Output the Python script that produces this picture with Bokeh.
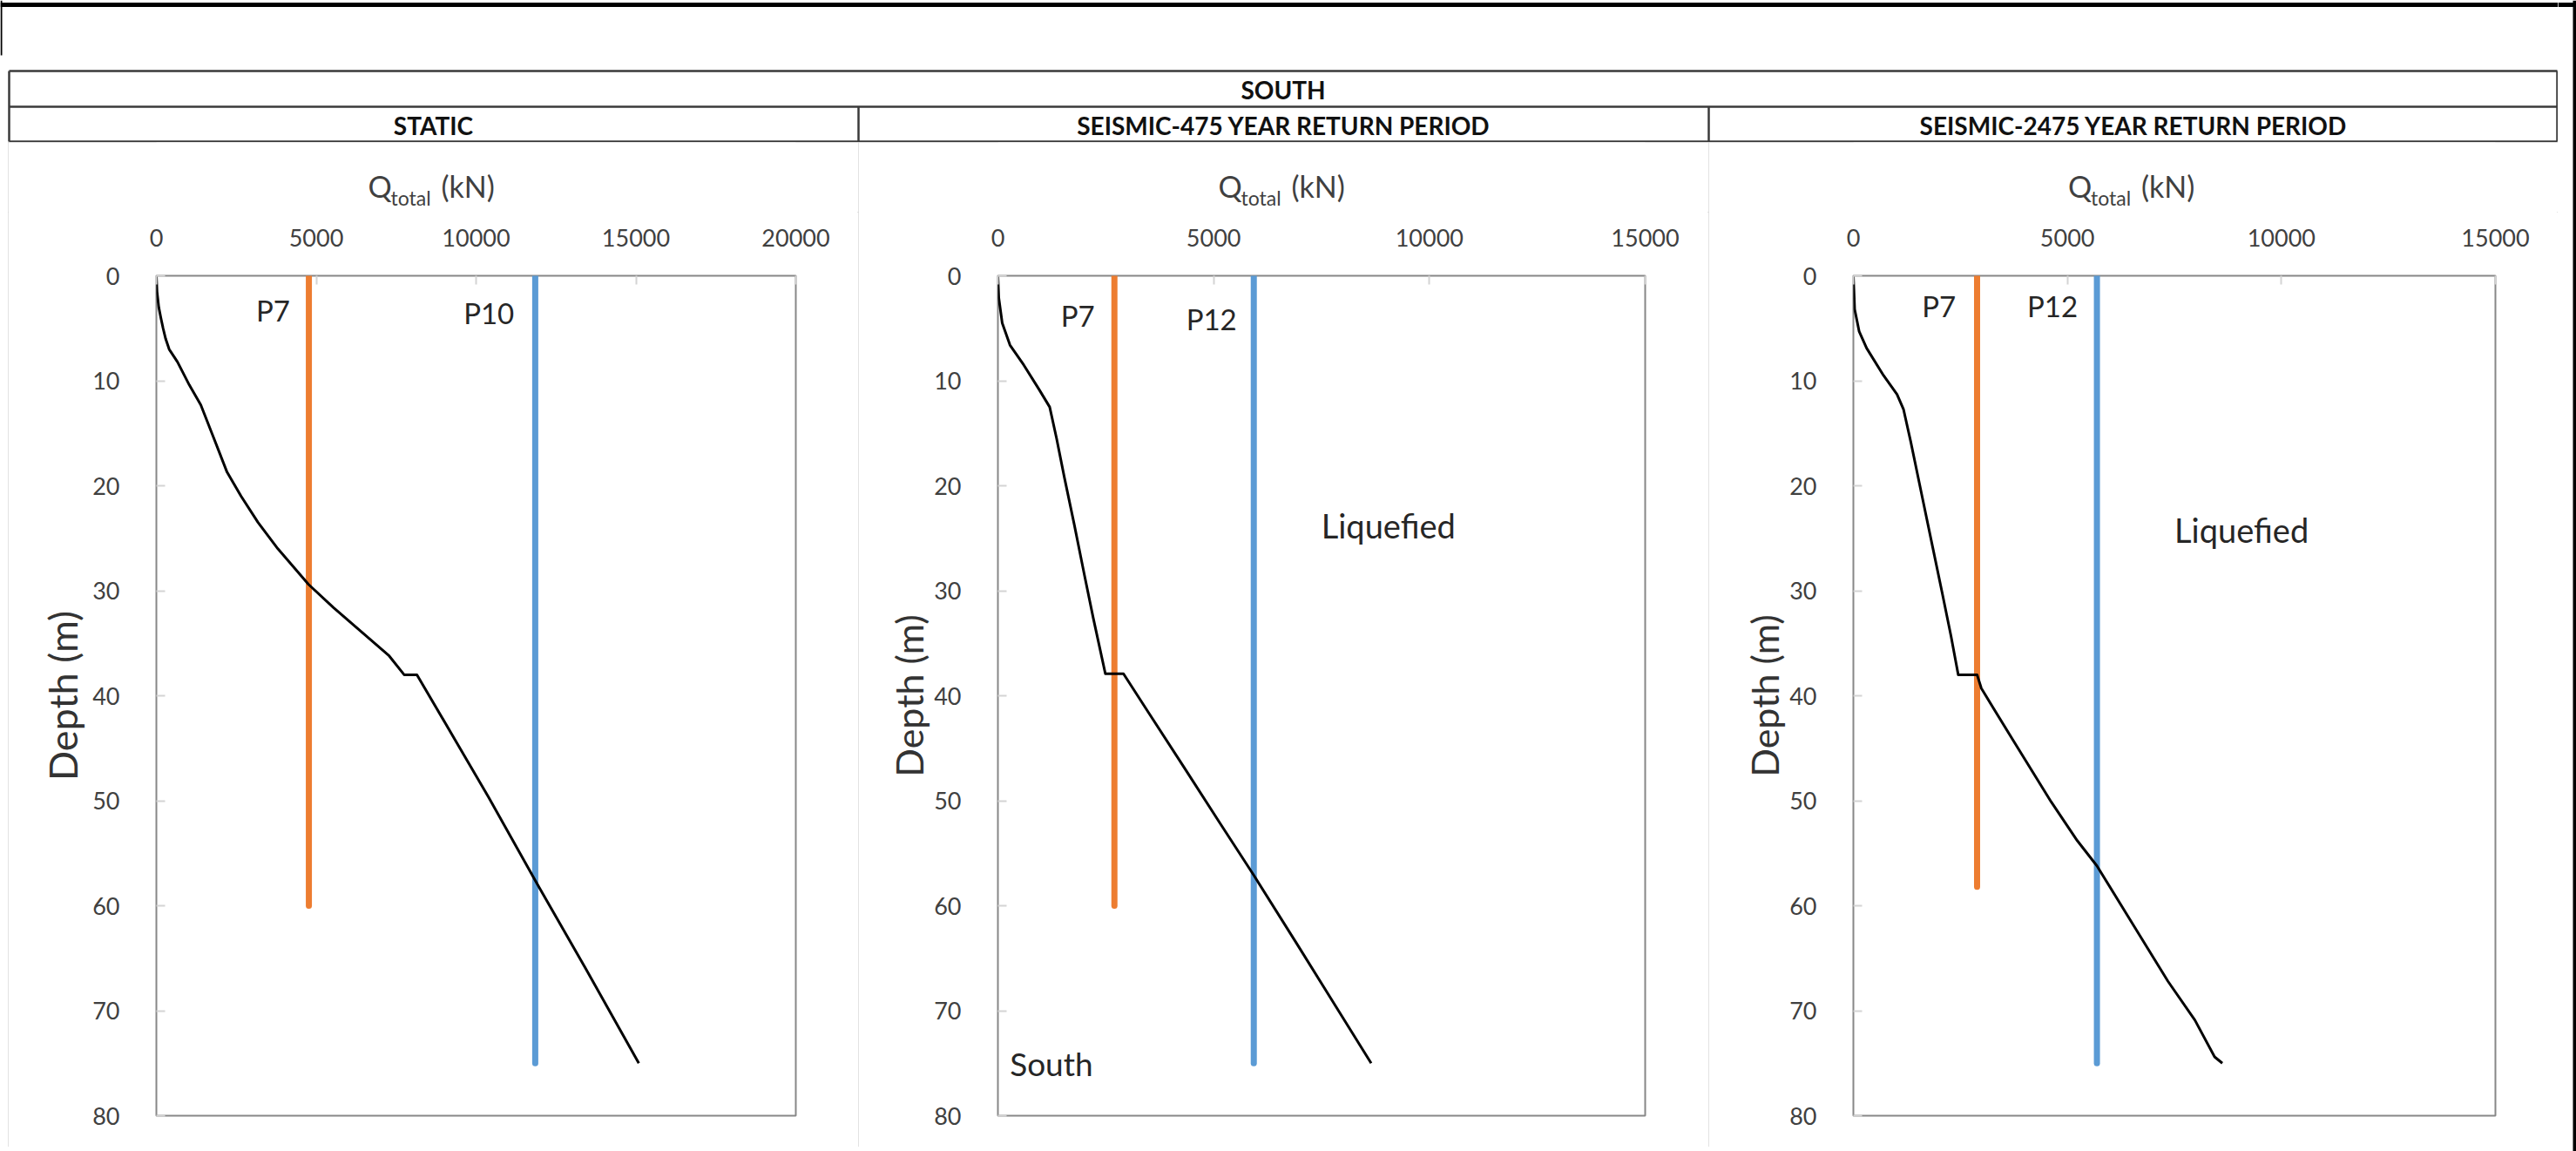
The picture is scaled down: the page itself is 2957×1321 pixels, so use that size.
from bokeh.plotting import figure
from bokeh.layouts import row, column
from bokeh.models import Range1d, FixedTicker, Spacer
from bokeh.core.properties import value
from bokeh.embed import file_html
from bokeh.resources import INLINE

# ---------------- data ----------------
group_title = "SOUTH"
panel_titles = ["STATIC", "SEISMIC-475 YEAR RETURN PERIOD", "SEISMIC-2475 YEAR RETURN PERIOD"]
x_max = [20000, 15000, 15000]
x_ticks = [[0, 5000, 10000, 15000, 20000], [0, 5000, 10000, 15000], [0, 5000, 10000, 15000]]
y_ticks = [0, 10, 20, 30, 40, 50, 60, 70, 80]
x_title = ["Q", "total", "(kN)"]
y_title = "Depth (m)"

static_depth = [0, 1.5, 3, 4, 5, 6, 7, 8.2, 10.4, 12.3, 15.1, 18.7, 21, 23.5, 26, 29.4, 31.6, 36.2, 38, 38,
                44.5, 49.6, 57.6, 66, 75]
static_q = [0, 20, 75, 140, 210, 290, 400, 660, 1030, 1390, 1750, 2210, 2650, 3180, 3800, 4760, 5540, 7280, 7750,
            8150, 9400, 10380, 11850, 13430, 15090]

s475_depth = [0, 2.1, 4.5, 6.6, 8.5, 10.8, 12.5, 15.5, 19.2, 23.7, 28.4, 32.6, 37.9, 37.9, 41.6, 46.8, 52.1, 57.1,
              63.7, 68.2, 75]
s475_q = [0, 20, 100, 280, 600, 950, 1200, 1360, 1540, 1770, 2000, 2210, 2490, 2910, 3490, 4310, 5140, 5930, 6940,
          7620, 8650]

s2475_depth = [0, 3.2, 5.3, 6.9, 9.5, 11.3, 12.7, 15.8, 21.1, 25.8, 30.1, 34.3, 38, 38, 39.3, 44.3, 50.1, 53.8, 56.2,
               61.7, 67.2, 70.9, 74.4, 75]
s2475_q = [0, 30, 135, 310, 705, 1020, 1170, 1340, 1610, 1850, 2070, 2280, 2450, 2890, 2990, 3740, 4620, 5230, 5690,
           6520, 7350, 7980, 8440, 8620]

curves_depth = [static_depth, s475_depth, s2475_depth]
curves_q = [static_q, s475_q, s2475_q]

pile_names = [["P7", "P10"], ["P7", "P12"], ["P7", "P12"]]
pile_q = [[4770, 11850], [2700, 5930], [2890, 5690]]
pile_len = [[60, 75], [60, 75], [58.2, 75]]

notes = [[], ["Liquefied", "South"], ["Liquefied"]]

# ---------------- layout / placement ----------------
page_w, page_h = 2957, 1321
header_h = 163
title_h = 80
panel_edges = [9, 985, 1961, 2936]
frame_left = [179, 1145, 2127]
frame_right = [913, 1888, 2864]
frame_top = 316
frame_bottom = 1280
panel_bottom = 1316

title_left = [-75, -49, 9]             # left edges of Q / total / (kN) relative to panel centre (px)
title_mid = [213, 226, 213]            # vertical centres (page px)
title_sizes = ["34px", "23px", "34px"]

pile_label_x = [[3650, 10400], [1850, 4950], [2000, 4650]]
pile_label_y = [[3.3, 3.5], [3.8, 4.1], [2.9, 2.9]]
note_x = [[], [9050, 1240], [9070]]
note_y = [[], [23.8, 75.0], [24.2]]
note_size = [[], ["38px", "37px"], ["38px"]]
ylabel_size = ["45px", "43px", "43px"]
ylabel_standoff = [4, 0, 0]

FONT = "Lato"
ORANGE = "#ED7D31"
BLUE = "#5B9BD5"
TXT = "#404040"
pile_colors = [ORANGE, BLUE]
panel_css = {"outline": "1px solid #d9d9d9", "outline-offset": "-1px"}


def blank(w, h, x0=0, x1=None):
    f = figure(width=w, height=h, x_range=Range1d(x0, w if x1 is None else x1), y_range=Range1d(h, 0),
               min_border=0, toolbar_location=None, output_backend="svg", x_axis_type=None,
               y_axis_type=None, tools="")
    f.outline_line_color = None
    f.grid.visible = False
    return f


# ---------------- header table ----------------
hdr = blank(panel_edges[3], header_h)
L, R = panel_edges[0] + 1, panel_edges[3] - 1
r_top, r_mid, r_bot = 81, 122, 162
hdr.segment(x0=[0], y0=[5], x1=[panel_edges[3]], y1=[5], line_color="black", line_width=5)
hdr.segment(x0=[1], y0=[0], x1=[1], y1=[63], line_color="black", line_width=2)
hdr.segment(x0=[L, L, L, L, R, panel_edges[1], panel_edges[2]],
            y0=[r_top, r_mid, r_bot, r_top, r_top, r_mid, r_mid],
            x1=[R, R, R, L, R, panel_edges[1], panel_edges[2]],
            y1=[r_top, r_mid, r_bot, r_bot, r_bot, r_bot, r_bot],
            line_color="#3a3a3a", line_width=2.5)
hdr.text(x=[(L + R) / 2], y=[(r_top + r_mid) / 2 + 1], text=[group_title], text_font=value(FONT),
         text_font_style="bold", text_font_size="28px", text_align="center", text_baseline="middle",
         text_color="#111111")
hdr.text(x=[(panel_edges[i] + panel_edges[i + 1]) / 2 for i in range(3)],
         y=[(r_mid + r_bot) / 2 + 1] * 3, text=panel_titles, text_font=value(FONT),
         text_font_style="bold", text_font_size="28px", text_align="center", text_baseline="middle",
         text_color="#111111")

# ---------------- right strip ----------------
strip_w = page_w - panel_edges[3]
strip = blank(strip_w, page_h)
strip.segment(x0=[0], y0=[5], x1=[strip_w], y1=[5], line_color="black", line_width=5)
strip.segment(x0=[19], y0=[0], x1=[19], y1=[page_h], line_color="black", line_width=4)

# ---------------- panels ----------------
panels = []
for i in range(3):
    w = panel_edges[i + 1] - panel_edges[i]

    # axis title  Q_total (kN), centred on the panel.
    # In a column Bokeh aligns this strip's frame with the plot frame below it,
    # so its x range is given in panel pixels spanning that frame.
    tf = blank(w, title_h, x0=frame_left[i] - panel_edges[i], x1=frame_right[i] - panel_edges[i])
    cx = w / 2
    for k in range(3):
        tf.text(x=[cx + title_left[k]], y=[title_mid[k] - header_h], text=[x_title[k]],
                text_font=value(FONT), text_font_size=title_sizes[k], text_align="left",
                text_baseline="middle", text_color=TXT)

    top = header_h + title_h
    p = figure(width=w, height=panel_bottom - top, x_range=Range1d(0, x_max[i]),
               y_range=Range1d(y_ticks[-1], y_ticks[0]),
               x_axis_location="above", output_backend="svg", toolbar_location=None, tools="",
               min_border_left=frame_left[i] - panel_edges[i],
               min_border_right=panel_edges[i + 1] - frame_right[i],
               min_border_top=frame_top - top, min_border_bottom=panel_bottom - frame_bottom)
    p.outline_line_color = "#878787"
    p.outline_line_width = 2
    p.xgrid.visible = False
    p.ygrid.visible = False
    p.xaxis.ticker = FixedTicker(ticks=x_ticks[i])
    p.yaxis.ticker = FixedTicker(ticks=y_ticks)
    for ax in (p.xaxis[0], p.yaxis[0]):
        ax.axis_line_color = None
        ax.major_tick_in = 10
        ax.major_tick_out = 0
        ax.major_tick_line_color = "#d4d4d4"
        ax.major_tick_line_width = 2
        ax.minor_tick_line_color = None
        ax.major_label_text_font = FONT
        ax.major_label_text_font_size = "27px"
        ax.major_label_text_color = TXT
    p.xaxis.major_label_standoff = 34
    p.yaxis.major_label_standoff = 42
    p.yaxis.axis_label = y_title
    p.yaxis.axis_label_text_font = FONT
    p.yaxis.axis_label_text_font_size = ylabel_size[i]
    p.yaxis.axis_label_text_font_style = "normal"
    p.yaxis.axis_label_text_color = "#333333"
    p.yaxis.axis_label_standoff = ylabel_standoff[i]

    # piles (vertical lines)
    for k in range(2):
        p.line(x=[pile_q[i][k], pile_q[i][k]], y=[0, pile_len[i][k]], line_color=pile_colors[k],
               line_width=7, line_cap="round")
    # capacity curve
    p.line(x=curves_q[i], y=curves_depth[i], line_color="black", line_width=3, line_join="round")

    # pile names and notes
    p.text(x=pile_label_x[i], y=pile_label_y[i], text=pile_names[i], text_font=value(FONT),
           text_font_size="33px", text_align="center", text_baseline="middle", text_color="#262626")
    for n in range(len(notes[i])):
        p.text(x=[note_x[i][n]], y=[note_y[i][n]], text=[notes[i][n]], text_font=value(FONT),
               text_font_size=note_size[i][n], text_align="center", text_baseline="middle",
               text_color="#262626")

    panels.append(column(tf, p, styles=panel_css))

panel_row = row(Spacer(width=panel_edges[0], height=panel_bottom - header_h), *panels)
layout = row(column(hdr, panel_row), strip)

open("out.html", "w").write(file_html(layout, INLINE))
